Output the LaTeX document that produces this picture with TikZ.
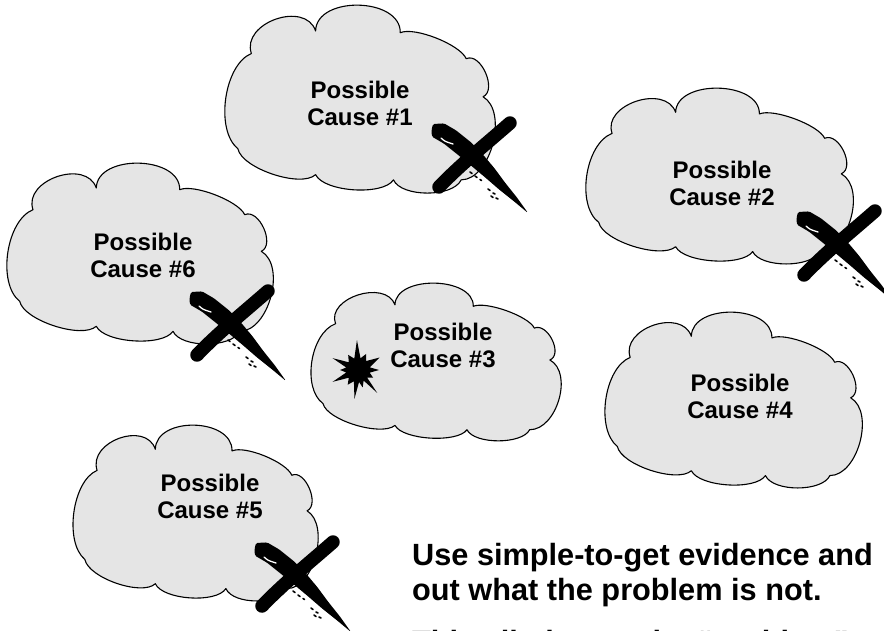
\documentclass[tikz,border=0pt]{standalone}
\usepackage{fontspec}
\setmainfont{Liberation Sans}
\begin{document}
\begin{tikzpicture}[x=1pt,y=-1pt,
  cloudline/.style={draw=black, line width=1.1pt, fill=gray!20, line join=round},
  causetext/.style={font=\bfseries\fontsize{24}{27}\selectfont, align=center, text=black, inner sep=0pt},
  notetext/.style={font=\bfseries\fontsize{30.7}{35}\selectfont, anchor=base west, inner sep=0pt, text=black},
  ink/.style={fill=black, draw=none},
  % a puffy cloud, 264 x 180 units, top-left corner at the pic origin
  cloudshape/.pic={
    \path[cloudline] (10.7,138.3)
      to[bend left=60, looseness=0.8]  (24,46.7)
      to[bend left=90, looseness=1.2]  (87.3,25)
      to[bend left=90, looseness=1.05] (170.7,26.7)
      to[bend left=45, looseness=0.55] (235.7,51.7)
      to[bend left=90, looseness=1.0]  (252.3,88.3)
      to[bend left=75, looseness=0.9]  (230.7,168.3)
      to[bend left=65, looseness=0.72] (164,168.3)
      to[bend left=60, looseness=0.62] (87.3,163.3)
      to[bend left=60, looseness=0.62] cycle;
  },
  % a brushed cross, origin at the crossing
  brushcross/.pic={
    % long stroke, top left to bottom right, tapering to a point
    \path[ink, rounded corners=1.5pt]
      (-37,-26) -- (-25.9,-26.6) -- (-13.9,-19.6) -- (1.1,-7.6) -- (13.4,5.1)
      -- (24.4,18.2) -- (35.1,32.7) -- (46.7,47.2) -- (58,63)
      -- (43.3,50.8) -- (28.9,39.3) -- (15.6,27.8) -- (2.6,16.9) -- (-11.1,5.6)
      -- (-26.1,-6.4) -- (-38.1,-13.4) -- (-38.5,-20) -- cycle;
    % thin curl left by the brush at its start
    \draw[white, line width=1.3pt, line cap=round] (-29,-12) .. controls (-25,-8.5) .. (-17,-6);
    % second stroke, top right to bottom left
    \draw[line width=13.5pt, line cap=round] (40,-27) .. controls (16,-6) and (-10,15) .. (-31,37);
    % dry-brush specks along the tail
    \draw[line width=1.6pt, line cap=round]
      (0,22) -- (2,23.5)  (5,26) -- (7,27.5)  (10,29.5) -- (11.5,30.5)
      (18,39) -- (20,40.5)  (23,43) -- (25,44)  (21,46) -- (23,47.5)  (26,48) -- (28,49);
  },
  starburst/.pic={
    \path[ink] (0:21) -- (13:12) -- (27:17) -- (40:12) -- (50:30) -- (62:12) -- (75:18)
      -- (85:12) -- (97:29) -- (110:12) -- (125:18) -- (140:12) -- (155:28) -- (168:12)
      -- (180:18) -- (192:12) -- (205:28) -- (220:12) -- (237:18) -- (252:12) -- (268:30)
      -- (282:12) -- (297:18) -- (312:12) -- (330:25) -- (347:12) -- cycle;
  }
]
\useasboundingbox (0,0) rectangle (884,631);
\clip (0,0) rectangle (884,631);

% clouds
\pic[xscale=1.015, yscale=1.039] at (227,5)   {cloudshape};
\pic[xscale=1.004, yscale=0.972] at (588,88)  {cloudshape};
\pic                             at (9,163)   {cloudshape};
\pic[xscale=0.939, yscale=0.872] at (313,283) {cloudshape};
\pic[xscale=0.966, yscale=0.972] at (607,312) {cloudshape};
\pic[xscale=0.920, yscale=0.972] at (75,425)  {cloudshape};

% cause labels
\node[causetext] (c1) at (360,103) {Possible\\Cause \#1};
\node[causetext] (c2) at (722,183) {Possible\\Cause \#2};
\node[causetext] (c3) at (443,345) {Possible\\Cause \#3};
\node[causetext] (c4) at (740,396) {Possible\\Cause \#4};
\node[causetext] (c5) at (210,496) {Possible\\Cause \#5};
\node[causetext] (c6) at (143,255) {Possible\\Cause \#6};

% crossed-out causes and the flagged one
\pic at (470,150) {brushcross};
\pic at (835,238) {brushcross};
\pic at (228,318) {brushcross};
\pic at (293,569) {brushcross};
\pic at (358,370) {starburst};

% note text
\node[notetext] (n1) at (412,565) {Use simple-to-get evidence and};
\node[notetext] (n2) at (412,600) {out what the problem is not.};
\node[notetext] (n3) at (412,652) {This eliminates the ``problem'' causes.};
\end{tikzpicture}
\end{document}
